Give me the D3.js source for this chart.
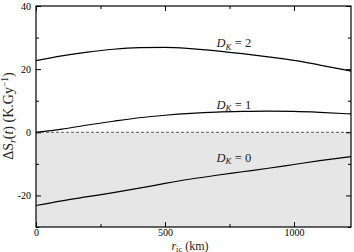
<!DOCTYPE html>
<html><head><meta charset="utf-8">
<script src="https://cdn.jsdelivr.net/npm/d3@7"></script>
<style>body{margin:0;background:#fff}svg{display:block}text{font-family:"Liberation Serif","DejaVu Serif",serif}</style>
</head><body>
<svg id="c" width="354" height="252"></svg>
<script>
const radius = [0,100,200,300,400,500,600,700,800,900,1000,1100,1221];
const dk2 = [22.7,24.2,25.4,26.3,26.8,26.9,26.5,25.8,24.9,23.9,22.8,21.3,19.4];
const dk1 = [0,1.0,2.3,3.5,4.6,5.4,6.0,6.4,6.6,6.7,6.6,6.3,5.8];
const dk0 = [-23.2,-21.7,-20.4,-19.1,-17.7,-16.2,-14.8,-13.6,-12.5,-11.4,-10.2,-9.0,-7.7];
const seriesNames = ["2","1","0"];
const xTicks = [0,500,1000];
const xMinor = [250,750];
const yTicks = [-20,0,20,40];
const yMinor = [-30,-10,10,30];

const svg = d3.select("#c");
const L=36,R=351,T=6,B=227;
const x = d3.scaleLinear().domain([0,1221]).range([L,R]);
const y = d3.scaleLinear().domain([-30,40]).range([B,T]);

svg.append("rect").attr("x",x(0)).attr("y",y(0)).attr("width",x(1221)-x(0)).attr("height",y(-30)-y(0)).attr("fill","#e6e6e6");
svg.append("line").attr("x1",x(0)).attr("x2",x(1221)).attr("y1",y(0)).attr("y2",y(0))
  .attr("stroke","#333").attr("stroke-width",0.8).attr("stroke-dasharray","3,2");

const line = d3.line().x((d,i)=>x(radius[i])).y(d=>y(d)).curve(d3.curveMonotoneX);
[dk2,dk1,dk0].forEach(s=>{
  svg.append("path").attr("d",line(s)).attr("fill","none").attr("stroke","#000").attr("stroke-width",1.2);
});

const ax = (g, axis) => { g.call(axis); g.select(".domain").remove(); g.selectAll("line").attr("stroke","#000"); };
const fmt = d => String(d);
svg.append("g").attr("transform",`translate(0,${B})`).call(g=>ax(g,d3.axisBottom(x).tickValues(xTicks).tickSize(-5).tickPadding(2).tickFormat(fmt)));
svg.append("g").attr("transform",`translate(0,${B})`).call(g=>ax(g,d3.axisBottom(x).tickValues(xMinor).tickSize(-3).tickFormat("")));
svg.append("g").attr("transform",`translate(0,${T})`).call(g=>ax(g,d3.axisTop(x).tickValues(xTicks).tickSize(-5).tickFormat("")));
svg.append("g").attr("transform",`translate(0,${T})`).call(g=>ax(g,d3.axisTop(x).tickValues(xMinor).tickSize(-3).tickFormat("")));
svg.append("g").attr("transform",`translate(${L},0)`).call(g=>ax(g,d3.axisLeft(y).tickValues(yTicks).tickSize(-5).tickPadding(5).tickFormat(fmt)));
svg.append("g").attr("transform",`translate(${L},0)`).call(g=>ax(g,d3.axisLeft(y).tickValues(yMinor).tickSize(-3).tickFormat("")));
svg.append("g").attr("transform",`translate(${R},0)`).call(g=>ax(g,d3.axisRight(y).tickValues(yTicks).tickSize(-5).tickFormat("")));
svg.append("g").attr("transform",`translate(${R},0)`).call(g=>ax(g,d3.axisRight(y).tickValues(yMinor).tickSize(-3).tickFormat("")));
svg.selectAll("g text").attr("font-family","Liberation Serif, serif").attr("font-size",10).attr("fill","#000");

svg.append("rect").attr("x",L).attr("y",T).attr("width",R-L).attr("height",B-T).attr("fill","none").attr("stroke","#000").attr("stroke-width",1.2);

const lblY = [27, 7.4, -9.3];
seriesNames.forEach((n,i)=>{
  const t = svg.append("text").attr("x",x(700)).attr("y",y(lblY[i]) ).attr("font-size",12.5).attr("fill","#222");
  t.append("tspan").attr("font-style","italic").text("D");
  t.append("tspan").attr("font-style","italic").attr("font-size",9).attr("dy",2.5).text("K");
  t.append("tspan").attr("dy",-2.5).text(" = "+n);
});

const xl = svg.append("text").attr("x",190).attr("y",249.5).attr("text-anchor","middle").attr("font-size",12).attr("fill","#222");
xl.append("tspan").attr("font-style","italic").text("r");
xl.append("tspan").attr("font-size",8.5).attr("dy",2).text("ic");
xl.append("tspan").attr("dy",-2).text(" (km)");

const yl = svg.append("text").attr("transform","translate(13,116) rotate(-90)").attr("text-anchor","middle").attr("font-size",14).attr("fill","#222");
yl.append("tspan").text("ΔS");
yl.append("tspan").attr("font-style","italic").attr("font-size",9.5).attr("dy",2.5).text("r");
yl.append("tspan").attr("dy",-2.5).text("(");
yl.append("tspan").attr("font-style","italic").text("t");
yl.append("tspan").text(")  (K.Gy");
yl.append("tspan").attr("font-size",9.5).attr("dy",-5).text("−1");
yl.append("tspan").attr("dy",5).text(")");
</script>
</body></html>
